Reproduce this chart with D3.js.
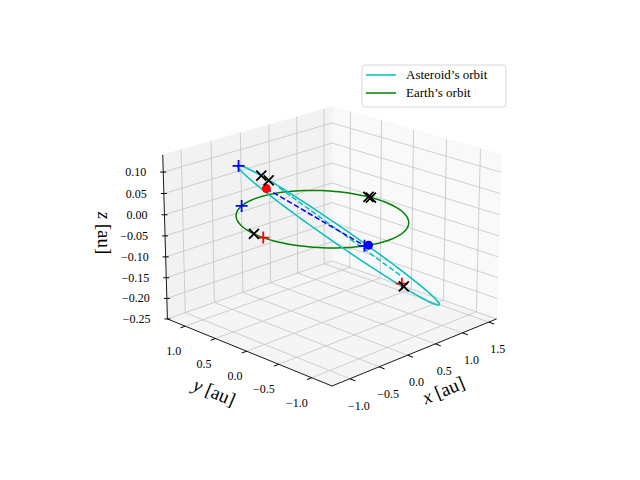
<!DOCTYPE html>
<html>
<head>
<meta charset="utf-8">
<script src="https://cdn.jsdelivr.net/npm/d3@7"></script>
<style>
  body { margin: 0; background: #fff; }
  text { font-family: "Liberation Serif", "DejaVu Serif", serif; }
</style>
</head>
<body>
<svg id="chart" width="640" height="480"></svg>
<script>
// axis limits and ticks
const xLim = [-1.3, 1.65], yLim = [-1.3, 1.3], zLim = [-0.25, 0.14];
const xTicks = [-1.0, -0.5, 0.0, 0.5, 1.0, 1.5];
const yTicks = [-1.0, -0.5, 0.0, 0.5, 1.0];
const zTicks = [-0.25, -0.20, -0.15, -0.10, -0.05, 0.00, 0.05, 0.10];

// Earth orbit: unit circle in the ecliptic (angles in degrees)
const earthRadius = 1.0;
// asteroid orbit: perihelion / aphelion points and a node on the ecliptic
const asteroidPeri = [-0.72, 0.66, 0.12];
const asteroidAph = [0.86, -1.06, -0.19];
const asteroidNode = [-0.31, -0.94, 0.01];
// dashed lines
const cyanDash = [[-0.30, 0.40, 0.065], [0.40, -0.88, -0.11]];
const blueDash = [[-0.44, 0.47, 0.065], [-0.34, -0.94, 0.0]];
// markers
const earthPlusBlueAngles = [113, -110];
const earthPlusRedAngles = [180];
const earthCrossAngles = [171, 6, 8];
const bluePlusPts = [[-0.65, 0.71, 0.115]];
const redPlusPts = [[0.54, -0.76, -0.14]];
const blackCrossPts = [[-0.48, 0.51, 0.095], [-0.43, 0.44, 0.085], [0.49, -0.83, -0.14]];
const redDotPts = [[-0.44, 0.47, 0.065]];
const blueDotAngles = [-107];

const svg = d3.select('#chart');

// 3d projection (matplotlib-ish: azim -135, elev 20, mild perspective)
const azim = -135 * Math.PI / 180, elev = 20 * Math.PI / 180;
const D = 9, S = 236, zHalf = 0.37;
const sx = d3.scaleLinear().domain(xLim).range([-0.5, 0.5]);
const sy = d3.scaleLinear().domain(yLim).range([-0.5, 0.5]);
const sz = d3.scaleLinear().domain(zLim).range([-zHalf, zHalf]);
const eye = [Math.cos(elev) * Math.cos(azim), Math.cos(elev) * Math.sin(azim), Math.sin(elev)];
const right = [-Math.sin(azim), Math.cos(azim), 0];
const up = [-Math.sin(elev) * Math.cos(azim), -Math.sin(elev) * Math.sin(azim), Math.cos(elev)];
const dot = (a, b) => a[0] * b[0] + a[1] * b[1] + a[2] * b[2];

function rawProj(p) {
    const n = [sx(p[0]), sy(p[1]), sz(p[2])];
    const f = D / (D - dot(n, eye));
    return [S * dot(n, right) * f, -S * dot(n, up) * f];
}
// anchor the front bottom corner on the page
const front = rawProj([xLim[0], yLim[0], zLim[0]]);
const offX = 332 - front[0], offY = 386 - front[1];
const proj = p => { const r = rawProj(p); return [r[0] + offX, r[1] + offY]; };

const line = d3.line().x(d => proj(d)[0]).y(d => proj(d)[1]);
const [x0, x1] = xLim, [y0, y1] = yLim, [z0, z1] = zLim;

// panes
const panes = [
    {pts: [[x0, y0, z0], [x1, y0, z0], [x1, y1, z0], [x0, y1, z0]], fill: '#f5f5f5'},
    {pts: [[x0, y1, z0], [x1, y1, z0], [x1, y1, z1], [x0, y1, z1]], fill: '#f2f2f2'},
    {pts: [[x1, y0, z0], [x1, y1, z0], [x1, y1, z1], [x1, y0, z1]], fill: '#f9f9f9'}
];
svg.selectAll('.pane').data(panes).join('path')
    .attr('d', d => line(d.pts) + 'Z')
    .style('fill', d => d.fill)
    .style('stroke', '#f0f0f0').style('stroke-width', 0.5);

// grid
let grid = [];
xTicks.forEach(v => {
    grid.push([[v, y0, z0], [v, y1, z0]]);
    grid.push([[v, y1, z0], [v, y1, z1]]);
});
yTicks.forEach(v => {
    grid.push([[x0, v, z0], [x1, v, z0]]);
    grid.push([[x1, v, z0], [x1, v, z1]]);
});
zTicks.forEach(v => {
    grid.push([[x0, y1, v], [x1, y1, v]]);
    grid.push([[x1, y1, v], [x1, y0, v]]);
});
svg.selectAll('.grid').data(grid).join('path')
    .attr('d', d => line(d))
    .style('fill', 'none').style('stroke', '#c4c4c4').style('stroke-width', 0.8);

// axes lines
const axes = [[[x0, y0, z0], [x1, y0, z0]], [[x0, y0, z0], [x0, y1, z0]], [[x0, y1, z0], [x0, y1, z1]]];
svg.selectAll('.axis').data(axes).join('path')
    .attr('d', d => line(d))
    .style('stroke', 'black').style('stroke-width', 0.9);

// tick marks and labels
const fmt = v => (v < 0 ? '\u2212' : '') + Math.abs(v).toFixed(1);
const fmt2 = v => (v < 0 ? '\u2212' : '') + Math.abs(v).toFixed(2);
xTicks.forEach(v => {
    const p = proj([v, y0, z0]), q = proj([v, y0 - 0.08, z0]);
    svg.append('line').attr('x1', p[0]).attr('y1', p[1]).attr('x2', q[0]).attr('y2', q[1]).style('stroke', 'black');
    svg.append('text').attr('x', p[0] + 9).attr('y', p[1] + 31).style('font-size', '12px')
        .style('text-anchor', 'middle').text(fmt(v));
});
yTicks.forEach(v => {
    const p = proj([x0, v, z0]), q = proj([x0 - 0.08, v, z0]);
    svg.append('line').attr('x1', p[0]).attr('y1', p[1]).attr('x2', q[0]).attr('y2', q[1]).style('stroke', 'black');
    svg.append('text').attr('x', p[0] - 4).attr('y', p[1] + 29).style('font-size', '12px')
        .style('text-anchor', 'end').text(fmt(v));
});
zTicks.forEach(v => {
    const p = proj([x0, y1, v]);
    svg.append('line').attr('x1', p[0] - 3).attr('y1', p[1]).attr('x2', p[0] + 3).attr('y2', p[1]).style('stroke', 'black');
    svg.append('text').attr('x', p[0] - 17).attr('y', p[1] + 4).style('font-size', '12px')
        .style('text-anchor', 'end').text(fmt2(v));
});

// axis titles
function axisTitle(x, y, rot, name) {
    const t = svg.append('text').attr('transform', `translate(${x},${y}) rotate(${rot})`)
        .style('font-size', '19px').style('text-anchor', 'middle');
    t.append('tspan').style('font-style', 'italic').text(name);
    t.append('tspan').text(' [au]');
}
axisTitle(446, 396, -23, 'x');
axisTitle(212, 398, 23, 'y');
axisTitle(98, 233, 90, 'z');

// orbits
const earthPts = d3.range(0, 361, 3).map(a => [earthRadius * Math.cos(a * Math.PI / 180), earthRadius * Math.sin(a * Math.PI / 180), 0]);
const sub = (a, b) => [a[0] - b[0], a[1] - b[1], a[2] - b[2]];
const norm = a => Math.sqrt(dot(a, a));
const center = asteroidPeri.map((v, i) => (v + asteroidAph[i]) / 2);
const major = sub(asteroidAph, center);
const uMaj = major.map(v => v / norm(major));
const nProj = asteroidNode.map((v, i) => v - dot(asteroidNode, uMaj) * uMaj[i]);
const uMin = nProj.map(v => v / norm(nProj));
const bLen = Math.sqrt(norm(asteroidPeri) * norm(asteroidAph));
const astPts = d3.range(0, 361, 3).map(a => {
    const r = a * Math.PI / 180;
    return center.map((c, i) => c + norm(major) * Math.cos(r) * uMaj[i] + bLen * Math.sin(r) * uMin[i]);
});

svg.append('path').attr('d', line(earthPts)).style('fill', 'none').style('stroke', 'green').style('stroke-width', 1.5);
svg.append('path').attr('d', line(astPts)).style('fill', 'none').style('stroke', '#00bfbf').style('stroke-width', 1.5);
svg.append('path').attr('d', line(cyanDash)).style('fill', 'none').style('stroke', '#00bfbf')
    .style('stroke-width', 1.5).style('stroke-dasharray', '5.5,2.5');
svg.append('path').attr('d', line(blueDash)).style('fill', 'none').style('stroke', 'blue')
    .style('stroke-width', 1.5).style('stroke-dasharray', '5.5,2.5');

// markers
const onEarth = a => [earthRadius * Math.cos(a * Math.PI / 180), earthRadius * Math.sin(a * Math.PI / 180), 0];
function plus(pts, color) {
    pts.forEach(p => {
        const [x, y] = proj(p);
        svg.append('path').attr('d', `M${x - 6},${y}H${x + 6}M${x},${y - 6}V${y + 6}`)
            .style('stroke', color).style('stroke-width', 1.8);
    });
}
function cross(pts) {
    pts.forEach(p => {
        const [x, y] = proj(p);
        svg.append('path').attr('d', `M${x - 5},${y - 5}L${x + 5},${y + 5}M${x - 5},${y + 5}L${x + 5},${y - 5}`)
            .style('stroke', 'black').style('stroke-width', 1.8);
    });
}
function dots(pts, color) {
    pts.forEach(p => {
        const [x, y] = proj(p);
        svg.append('circle').attr('cx', x).attr('cy', y).attr('r', 4.5).style('fill', color);
    });
}
dots(redDotPts, 'red');
dots(blueDotAngles.map(onEarth), 'blue');
plus(bluePlusPts.concat(earthPlusBlueAngles.map(onEarth)), 'blue');
plus(redPlusPts.concat(earthPlusRedAngles.map(onEarth)), 'red');
cross(blackCrossPts.concat(earthCrossAngles.map(onEarth)));

// legend
const lg = svg.append('g').attr('transform', 'translate(362,65)');
lg.append('rect').attr('width', 144).attr('height', 42).attr('rx', 3)
    .style('fill', 'white').style('stroke', '#d8d8d8');
[['Asteroid\u2019s orbit', '#00bfbf'], ['Earth\u2019s orbit', 'green']].forEach((d, i) => {
    lg.append('line').attr('x1', 4).attr('x2', 34).attr('y1', 10 + i * 18).attr('y2', 10 + i * 18)
        .style('stroke', d[1]).style('stroke-width', 1.5);
    lg.append('text').attr('x', 44).attr('y', 14 + i * 18).style('font-size', '13px').text(d[0]);
});
</script>
</body>
</html>
